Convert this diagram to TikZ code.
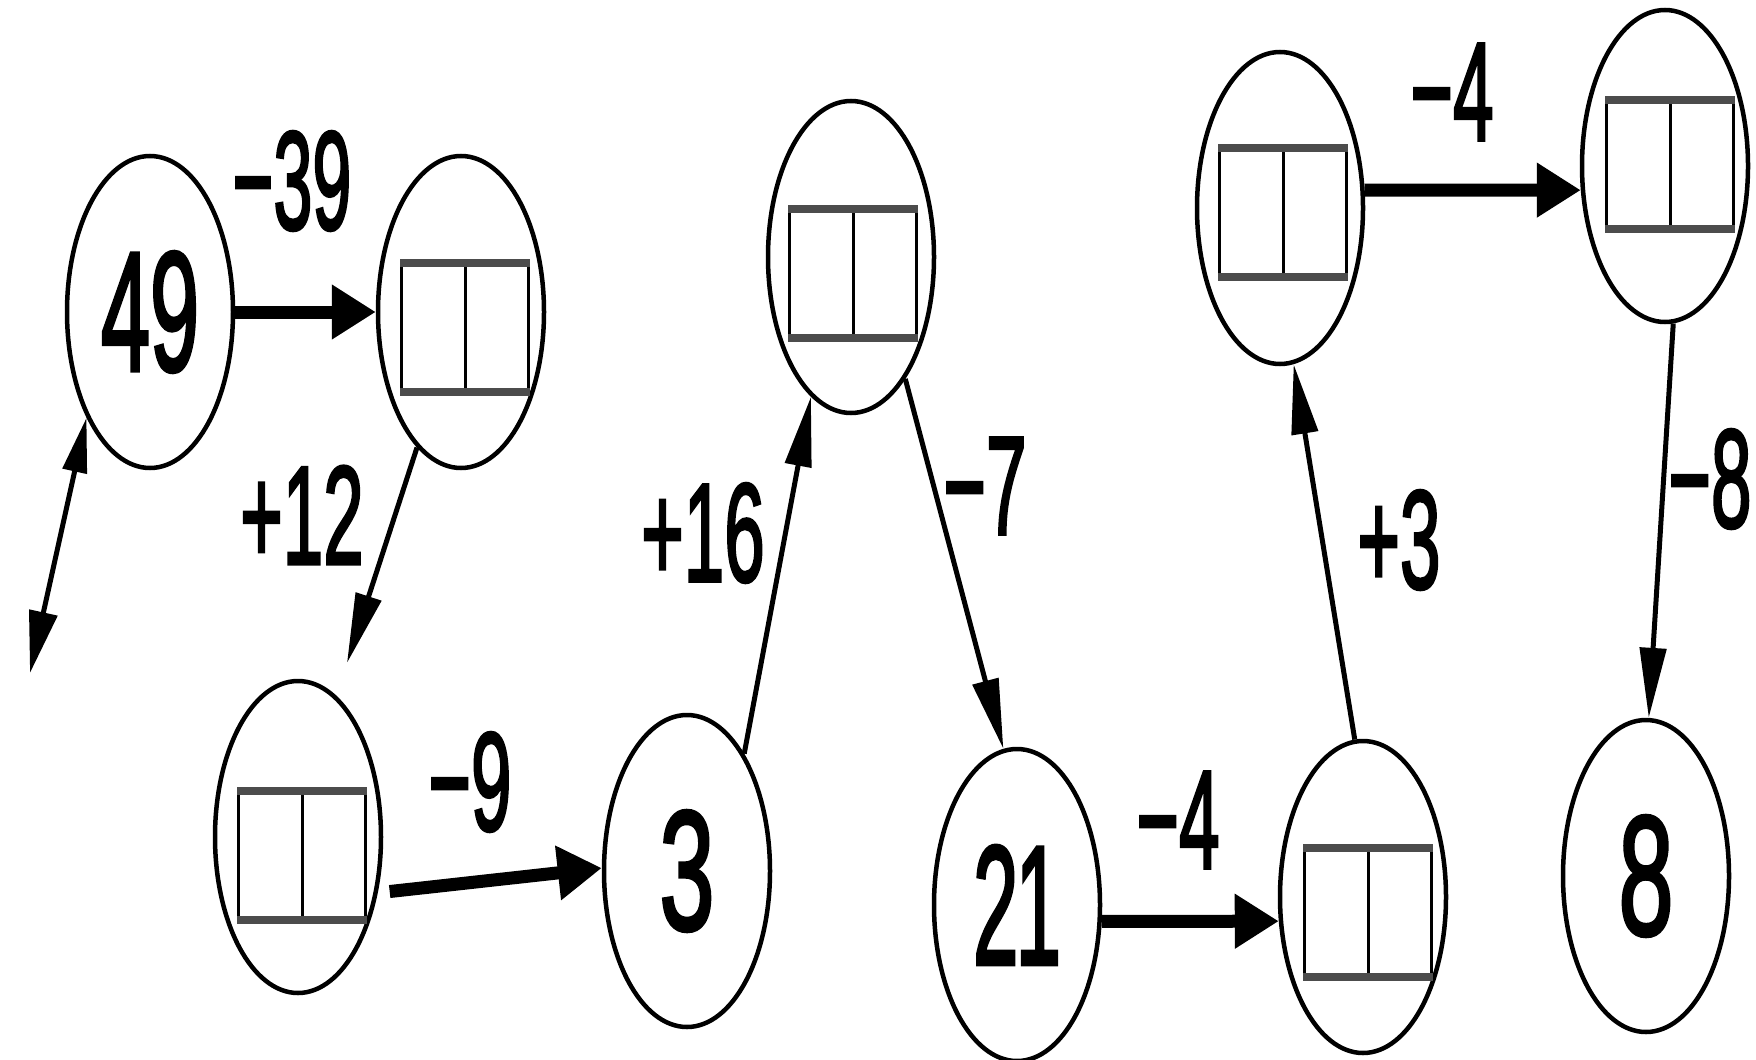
\documentclass[tikz,border=0pt]{standalone}
\usepackage{graphicx}
\usepackage{fontspec}
\setmainfont{Liberation Sans}
\newfontfamily\digfont[FakeBold=2.5]{Liberation Sans}
\usetikzlibrary{arrows.meta,shapes.geometric}
\newcommand{\numtxt}[2][0.58]{\fontsize{170}{170}\digfont\scalebox{#1}[1]{#2}}
\newcommand{\lbltxt}[2][0.52]{\fontsize{140}{140}\digfont\scalebox{#1}[1]{#2}}
\tikzset{
  st/.style={ellipse, draw, line width=4.5pt, minimum width=166pt, minimum height=312pt, inner sep=0pt},
  cell/.style={rectangle, draw, line width=3pt, minimum width=127pt, minimum height=126pt, inner sep=0pt,
    append after command={
      (\tikzlastnode.north) edge[draw, line width=3pt] (\tikzlastnode.south)
      (\tikzlastnode.north west) edge[draw, black!70, line width=8pt] (\tikzlastnode.north east)
      (\tikzlastnode.south west) edge[draw, black!70, line width=8pt] (\tikzlastnode.south east)
    }},
  lbl/.style={inner sep=0pt},
  arrowthick/.style={line width=13pt, -{Triangle[length=44pt,width=52pt]}},
  arrowthin/.style={line width=5pt, -{Triangle[length=70pt,width=26pt]}},
}
\begin{document}
\begin{tikzpicture}[x=1pt,y=-1pt]
\fill[white] (0,0) rectangle (1756,1060);
\useasboundingbox (0,0) rectangle (1756,1060);

% state ellipses
\node[st] (n49) at (150,312) {\numtxt[0.52]{49}};
\node[st] (e2)  at (461,312) {};
\node[st] (e3)  at (298,837) {};
\node[st] (n3)  at (687,871) {\numtxt{3}};
\node[st] (t1)  at (851,257) {};
\node[st] (n21) at (1017,905) {\numtxt[0.48]{2\kern-6pt 1}};
\node[st] (e4)  at (1363,897) {};
\node[st] (u1)  at (1280,208) {};
\node[st] (u2)  at (1665,166) {};
\node[st] (n8)  at (1646,876) {\numtxt{8}};

% boxes inside
\node[cell] (b2)  at (465,327) {};
\node[cell] (b3)  at (302,855) {};
\node[cell] (bt)  at (853,273) {};
\node[cell] (b4)  at (1368,912) {};
\node[cell] (bu1) at (1283,212) {};
\node[cell] (bu2) at (1670,164) {};

% free ends
\coordinate (tail) at (30,673);
\coordinate (t12) at (347,663);

% connectors
\draw[line width=5pt, {Triangle[length=62pt,width=28pt]}-{Triangle[length=55pt,width=24pt]}] (tail) -- (n49.239);
\draw[arrowthick] (n49) -- (e2);
\draw[arrowthin] (e2) -- (t12);
\draw[arrowthick, shorten <=12pt] (e3.-35) -- (n3.178);
\draw[arrowthin] (n3.64) -- (t1.254);
\draw[arrowthin] (t1.294) -- (n21.95);
\draw[arrowthick] (n21.-11) -- (e4.196);
\draw[arrowthin] (e4.93) -- (u1.275);
\draw[arrowthick] (u1.12.5) -- (u2.196);
\draw[arrowthin] (u2.273) -- (n8.89);

% labels
\node[lbl] (l39) at (292,181) {\lbltxt[0.5]{−39}};
\node[lbl] (l12) at (302,515) {\lbltxt{+12}};
\node[lbl] (l9)  at (470,782) {\lbltxt{−9}};
\node[lbl] (l16) at (703,533) {\lbltxt{+16}};
\node[lbl] (l7)  at (985,486) {\lbltxt{−7}};
\node[lbl] (l4a) at (1178,820) {\lbltxt{−4}};
\node[lbl] (l3)  at (1399,540) {\lbltxt{+3}};
\node[lbl] (l4b) at (1452,92) {\lbltxt{−4}};
\node[lbl] (l8)  at (1710,479) {\lbltxt{−8}};
\end{tikzpicture}
\end{document}
